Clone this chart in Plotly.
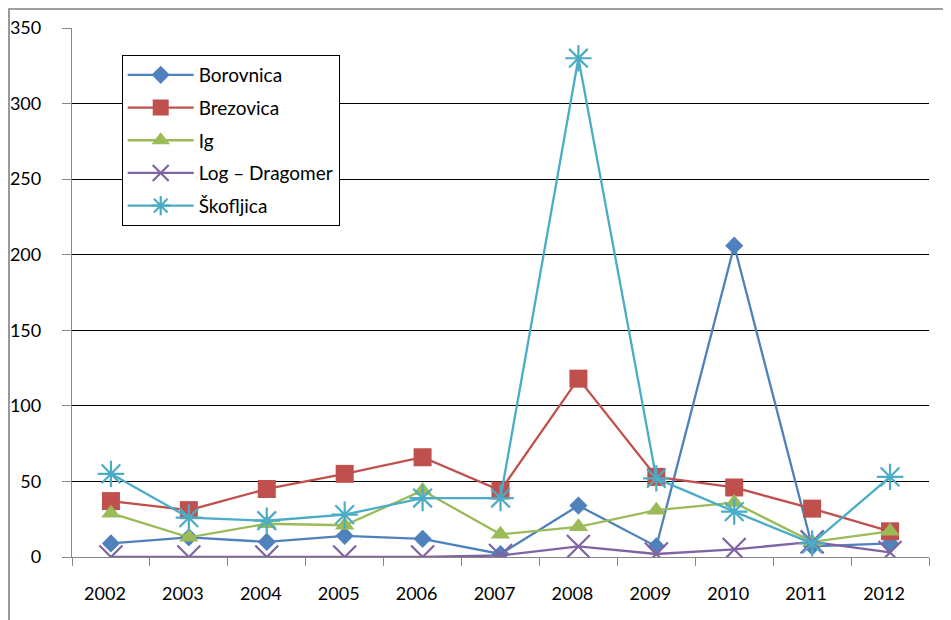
import plotly.graph_objects as go

years = ["2002", "2003", "2004", "2005", "2006", "2007", "2008", "2009", "2010", "2011", "2012"]
borovnica = [9, 13, 10, 14, 12, 2, 34, 7, 206, 7, 9]
brezovica = [37, 31, 45, 55, 66, 44, 118, 53, 46, 32, 17]
ig = [29, 13, 22, 21, 44, 15, 20, 31, 36, 10, 17]
log_dragomer = [0, 0, 0, 0, 0, 1, 7, 2, 5, 10, 3]
skofljica = [55, 26, 24, 28, 39, 39, 330, 52, 30, 9, 53]

series_names = ["Borovnica", "Brezovica", "Ig", "Log – Dragomer", "Škofljica"]
y_ticks = [0, 50, 100, 150, 200, 250, 300, 350]

styles = [
    dict(color="#4F81BD", symbol="diamond", size=14, lw=0),
    dict(color="#C0504D", symbol="square", size=18, lw=0),
    dict(color="#9BBB59", symbol="triangle-up", size=17, lw=0),
    dict(color="#8064A2", symbol="x-thin", size=23, lw=2.2),
    dict(color="#4BACC6", symbol="asterisk", size=22, lw=2.2),
]

fig = go.Figure()
for name, vals, st in zip(series_names, [borovnica, brezovica, ig, log_dragomer, skofljica], styles):
    fig.add_trace(go.Scatter(
        x=years, y=vals, name=name, mode="lines+markers",
        legendgroup=name,
        line=dict(color=st["color"], width=2.3),
        marker=dict(symbol=st["symbol"], size=st["size"], color=st["color"],
                    line=dict(color=st["color"], width=st["lw"])),
    ))

fig.update_layout(
    width=943, height=612,
    margin=dict(l=64, r=22, t=20, b=63),
    paper_bgcolor="white", plot_bgcolor="white",
    font=dict(family="Lato", size=18, color="#000000"),
    showlegend=True,
    legend=dict(
        x=0.058, y=0.949, xanchor="left", yanchor="top",
        bordercolor="#000000", borderwidth=1, bgcolor="white",
        font=dict(family="Lato", size=19, color="#000000"),
        tracegroupgap=5, itemwidth=66,
    ),
    xaxis=dict(
        type="category", range=[-0.5, len(years) - 0.5], automargin=False,
        showline=True, linecolor="#868686", linewidth=1.3,
        ticks="outside", tickson="boundaries", ticklen=8, tickcolor="#868686",
        showgrid=False, ticklabelstandoff=20, ticklabelshift=-6,
        tickfont=dict(family="Lato", size=18, color="#000000"),
    ),
    yaxis=dict(
        range=[0, 350], tickvals=y_ticks, automargin=False,
        showline=True, linecolor="#868686", linewidth=1.3,
        ticks="outside", ticklen=9, tickcolor="#868686",
        showgrid=True, gridcolor="#000000", gridwidth=1,
        zeroline=True, zerolinecolor="#868686", zerolinewidth=1.3,
        ticklabelstandoff=17,
        tickfont=dict(family="Lato", size=18, color="#000000"),
    ),
    shapes=[dict(
        type="rect", xref="paper", yref="paper",
        x0=-0.0735, x1=1.03, y0=-0.13, y1=1.0359,
        line=dict(color="#808080", width=1.6), fillcolor="rgba(0,0,0,0)", layer="below",
    )],
)

fig.write_html("out.html")
